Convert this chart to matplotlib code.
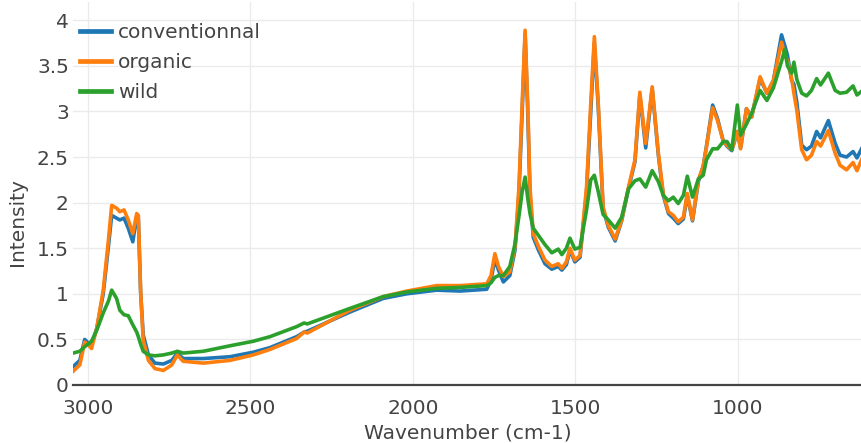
import matplotlib
matplotlib.use("Agg")
import matplotlib.pyplot as plt
from matplotlib.ticker import FuncFormatter

# Infrared spectra of three sample groups (wavenumber in cm-1)
wavenumber = [3046, 3025, 3010, 2999, 2989, 2973, 2953, 2937, 2927, 2912, 2902, 2889,
              2876, 2862, 2850, 2845, 2838, 2830, 2814, 2794, 2768, 2742, 2725, 2707,
              2645, 2563, 2491, 2440, 2358, 2335, 2325, 2194, 2091, 2019, 1927, 1855,
              1773, 1760, 1748, 1737, 1722, 1702, 1686, 1674, 1664, 1655, 1647, 1640,
              1630, 1614, 1594, 1573, 1553, 1542, 1528, 1517, 1502, 1486, 1466, 1453,
              1442, 1430, 1415, 1399, 1378, 1358, 1337, 1317, 1302, 1284, 1264, 1245,
              1230, 1214, 1199, 1184, 1168, 1156, 1140, 1122, 1107, 1097, 1078, 1063,
              1045, 1034, 1019, 1002, 992, 974, 958, 932, 911, 891, 866, 856,
              848, 835, 828, 819, 804, 789, 774, 758, 746, 722, 701, 686,
              666, 646, 634, 620]

conventionnal = [0.20, 0.27, 0.50, 0.46, 0.44, 0.62, 1.00, 1.52, 1.86, 1.83, 1.81, 1.83,
                 1.72, 1.57, 1.85, 1.83, 1.02, 0.55, 0.33, 0.24, 0.23, 0.27, 0.35, 0.29,
                 0.29, 0.31, 0.36, 0.41, 0.53, 0.58, 0.59, 0.80, 0.95, 1.00, 1.04, 1.03,
                 1.05, 1.15, 1.38, 1.26, 1.13, 1.20, 1.48, 2.10, 3.00, 3.85, 3.00, 2.10,
                 1.62, 1.48, 1.33, 1.27, 1.30, 1.26, 1.32, 1.48, 1.35, 1.40, 2.12, 3.00,
                 3.75, 3.05, 1.93, 1.73, 1.58, 1.80, 2.15, 2.45, 3.18, 2.60, 3.25, 2.52,
                 2.08, 1.88, 1.83, 1.77, 1.82, 2.08, 1.80, 2.23, 2.40, 2.62, 3.07, 2.92,
                 2.67, 2.62, 2.57, 2.78, 2.60, 3.03, 2.94, 3.36, 3.20, 3.34, 3.84, 3.72,
                 3.62, 3.34, 3.30, 3.10, 2.63, 2.58, 2.62, 2.78, 2.71, 2.90, 2.65, 2.52,
                 2.50, 2.56, 2.49, 2.59]

organic = [0.15, 0.22, 0.47, 0.44, 0.40, 0.62, 1.04, 1.59, 1.97, 1.94, 1.90, 1.92,
           1.81, 1.66, 1.88, 1.86, 1.04, 0.49, 0.27, 0.18, 0.16, 0.22, 0.33, 0.26,
           0.24, 0.27, 0.33, 0.39, 0.51, 0.58, 0.57, 0.82, 0.97, 1.03, 1.09, 1.09,
           1.11, 1.20, 1.44, 1.30, 1.19, 1.24, 1.52, 2.17, 3.09, 3.89, 3.09, 2.17,
           1.66, 1.52, 1.37, 1.30, 1.33, 1.28, 1.35, 1.50, 1.37, 1.42, 2.17, 3.09,
           3.82, 3.09, 1.95, 1.75, 1.60, 1.81, 2.17, 2.47, 3.21, 2.65, 3.27, 2.54,
           2.10, 1.90, 1.86, 1.79, 1.84, 2.10, 1.81, 2.25, 2.40, 2.61, 3.04, 2.90,
           2.67, 2.63, 2.58, 2.78, 2.59, 3.03, 2.94, 3.38, 3.20, 3.34, 3.76, 3.62,
           3.56, 3.36, 3.20, 3.01, 2.58, 2.47, 2.52, 2.67, 2.62, 2.79, 2.54, 2.41,
           2.36, 2.44, 2.35, 2.47]

wild = [0.35, 0.37, 0.42, 0.45, 0.48, 0.60, 0.79, 0.92, 1.04, 0.95, 0.82, 0.77,
        0.76, 0.66, 0.58, 0.53, 0.45, 0.37, 0.33, 0.32, 0.33, 0.35, 0.37, 0.35,
        0.37, 0.43, 0.48, 0.53, 0.64, 0.68, 0.67, 0.84, 0.97, 1.02, 1.06, 1.07,
        1.09, 1.12, 1.18, 1.20, 1.20, 1.30, 1.55, 1.85, 2.12, 2.28, 2.05, 1.88,
        1.72, 1.64, 1.54, 1.45, 1.49, 1.43, 1.50, 1.61, 1.49, 1.51, 1.92, 2.25,
        2.30, 2.12, 1.87, 1.81, 1.72, 1.84, 2.15, 2.24, 2.26, 2.17, 2.35, 2.23,
        2.08, 2.02, 2.06, 1.99, 2.08, 2.29, 2.06, 2.26, 2.30, 2.47, 2.59, 2.59,
        2.67, 2.67, 2.58, 3.07, 2.74, 2.86, 2.98, 3.23, 3.12, 3.26, 3.55, 3.68,
        3.50, 3.42, 3.54, 3.35, 3.20, 3.17, 3.23, 3.36, 3.29, 3.42, 3.23, 3.20,
        3.21, 3.28, 3.18, 3.22]

series = [("conventionnal", conventionnal, "#1f77b4"),
          ("organic", organic, "#ff7f0e"),
          ("wild", wild, "#2ca02c")]

x_ticks = [3000, 2500, 2000, 1500, 1000]
y_ticks = [0, 0.5, 1, 1.5, 2, 2.5, 3, 3.5, 4]

plt.rcParams["font.family"] = ["DejaVu Sans"]
FS = 14.5
TXT = "#444444"

W, H = 862, 443
fig = plt.figure(figsize=(W / 100, H / 100), dpi=100)
left, bottom, top = 73, 58, 2
ax = fig.add_axes([left / W, bottom / H, (W - left) / W, (H - bottom - top) / H])

for name, vals, col in series:
    ax.plot(wavenumber, vals, color=col, lw=2.6, label=name,
            solid_joinstyle="round", zorder=3)

ax.set_xlim(3046, 618.5)
ax.set_ylim(0, 4.2)
ax.set_xticks(x_ticks)
ax.set_yticks(y_ticks)
ax.yaxis.set_major_formatter(FuncFormatter(lambda v, p: f"{v:g}"))
ax.grid(True, color="#ebebeb", lw=1.0, zorder=0)
ax.axhline(0, color="#444444", lw=1.6, zorder=2, clip_on=False)
for s in ax.spines.values():
    s.set_visible(False)
ax.tick_params(axis="both", length=0, labelsize=FS, labelcolor=TXT)
ax.tick_params(axis="x", pad=10)
ax.tick_params(axis="y", pad=3)

fig.text(18 / W, 1 - 222 / H, "Intensity", rotation=90, ha="center", va="center",
         fontsize=FS, color=TXT)
fig.text((left + W) / 2 / W, 1 - 433 / H, "Wavenumber (cm-1)", ha="center",
         va="center", fontsize=FS, color=TXT)

leg = ax.legend(loc="upper left", bbox_to_anchor=(80 / W, 1 - 23 / H),
                bbox_transform=fig.transFigure, frameon=False, fontsize=FS,
                handlelength=1.55, handletextpad=0.35, labelspacing=0.55,
                borderpad=0, borderaxespad=0)
for t in leg.get_texts():
    t.set_color(TXT)
for h in leg.legend_handles:
    h.set_linewidth(3.4)

fig.savefig("out.png", dpi=100)
